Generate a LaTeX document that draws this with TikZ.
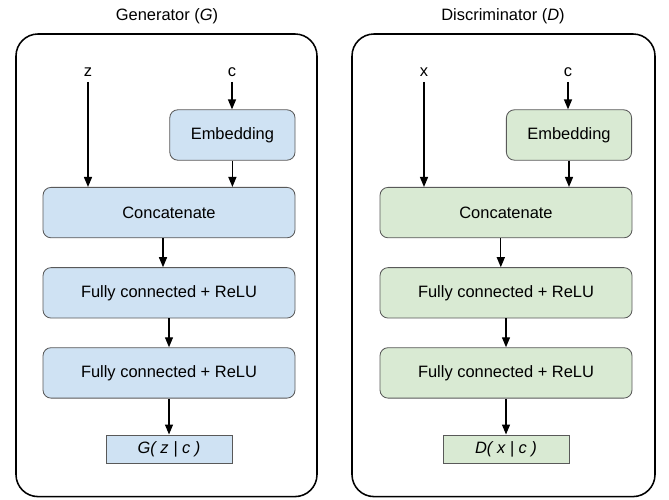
\documentclass[tikz,border=0pt]{standalone}
\usepackage{fontspec}
\setmainfont{Liberation Sans}
\usepackage{xcolor}
\usepackage{tikz}
\usetikzlibrary{arrows.meta, positioning}

\definecolor{genblue}{HTML}{CFE2F3}
\definecolor{discgreen}{HTML}{D9EAD3}
\definecolor{blockline}{HTML}{595959}

\tikzset{
    panel/.style={draw=black, line width=1.1pt, rounded corners=0.55cm},
    block/.style={draw=blockline, line width=0.6pt, rounded corners=0.2cm,
        minimum width=6.3cm, minimum height=1.26cm, font=\fontsize{11.7}{14}\selectfont},
    embed/.style={block, minimum width=3.13cm},
    outbox/.style={draw=blockline, line width=0.6pt, minimum width=3.15cm,
        minimum height=0.7cm, font=\fontsize{11.7}{14}\selectfont},
    varlabel/.style={font=\fontsize{11.7}{14}\selectfont, inner sep=1pt},
    arr/.style={-{Triangle[length=0.25cm, width=0.2cm]}, line width=0.95pt},
}

\begin{document}
\begin{tikzpicture}
    \useasboundingbox (0, 0) rectangle (16.725, 12.475);

    % Generator
    \node[varlabel] (gtitle) at (4.175, 12.075) {Generator (\textit{G})};
    \draw[panel] (0.4, 0.06) rectangle (7.925, 11.625);
    \node[varlabel] (z) at (2.2, 10.68) {z};
    \node[varlabel] (gc) at (5.8, 10.68) {c};
    \node[embed, fill=genblue] (gembed) at (5.81, 9.1) {Embedding};
    \node[block, fill=genblue] (gconcat) at (4.225, 7.16) {Concatenate};
    \node[block, fill=genblue, below=0.725cm of gconcat] (gfc1) {Fully connected + ReLU};
    \node[block, fill=genblue, below=0.72cm of gfc1] (gfc2) {Fully connected + ReLU};
    \node[outbox, fill=genblue, below=0.9cm of gfc2] (gout) {\textit{G( z | c )}};

    \draw[arr] ([yshift=-0.1cm]z.south) -- (z |- gconcat.north);
    \draw[arr] ([yshift=-0.1cm]gc.south) -- (gc |- gembed.north);
    \draw[arr] (gembed) -- (gembed |- gconcat.north);
    \draw[arr] ([xshift=-0.15cm]gconcat.south) -- ([xshift=-0.15cm]gfc1.north);
    \draw[arr] (gfc1) -- (gfc2);
    \draw[arr] (gfc2) -- (gout);

    % Discriminator
    \node[varlabel] (dtitle) at (12.575, 12.075) {Discriminator (\textit{D})};
    \draw[panel] (8.8, 0.06) rectangle (16.375, 11.625);
    \node[varlabel] (x) at (10.6, 10.68) {x};
    \node[varlabel] (dc) at (14.2, 10.68) {c};
    \node[embed, fill=discgreen] (dembed) at (14.225, 9.1) {Embedding};
    \node[block, fill=discgreen] (dconcat) at (12.65, 7.16) {Concatenate};
    \node[block, fill=discgreen, below=0.725cm of dconcat] (dfc1) {Fully connected + ReLU};
    \node[block, fill=discgreen, below=0.72cm of dfc1] (dfc2) {Fully connected + ReLU};
    \node[outbox, fill=discgreen, below=0.9cm of dfc2] (dout) {\textit{D( x | c )}};

    \draw[arr] ([yshift=-0.1cm]x.south) -- (x |- dconcat.north);
    \draw[arr] ([yshift=-0.1cm]dc.south) -- (dc |- dembed.north);
    \draw[arr] (dembed) -- (dembed |- dconcat.north);
    \draw[arr] ([xshift=-0.13cm]dconcat.south) -- ([xshift=-0.13cm]dfc1.north);
    \draw[arr] (dfc1) -- (dfc2);
    \draw[arr] (dfc2) -- (dout);

\end{tikzpicture}
\end{document}
